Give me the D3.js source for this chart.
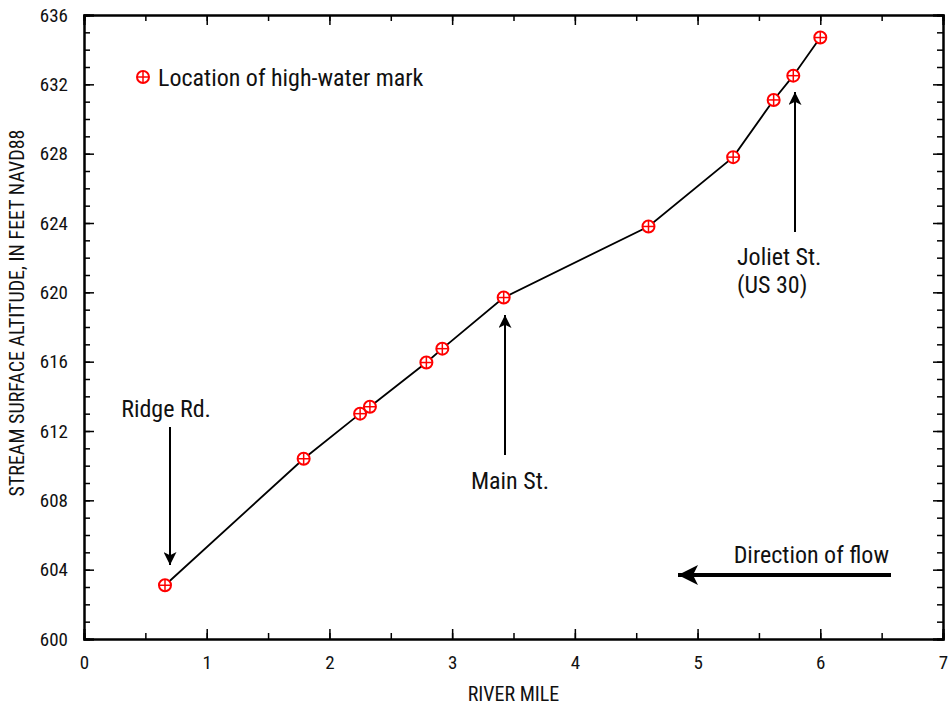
<!DOCTYPE html>
<html>
<head>
<meta charset="utf-8">
<script src="https://cdn.jsdelivr.net/npm/d3@7"></script>
<style>
body { margin: 0; background: #fff; }
text { font-family: "Liberation Sans Narrow", "Roboto Condensed", "DejaVu Sans Condensed", sans-serif; fill: #111; }
</style>
</head>
<body>
<svg id="chart" width="949" height="710"></svg>
<script>
// river mile vs stream surface altitude at each high-water mark
var riverMile = [0.66, 1.79, 2.25, 2.33, 2.79, 2.92, 3.42, 4.60, 5.29, 5.62, 5.78, 6.00];
var altitude = [603.1, 610.4, 613.0, 613.4, 615.95, 616.75, 619.7, 623.8, 627.8, 631.1, 632.5, 634.7];
var xTicks = [0, 1, 2, 3, 4, 5, 6, 7];
var yTicks = [600, 604, 608, 612, 616, 620, 624, 628, 632, 636];

var svg = d3.select("#chart");
var margin = {top: 15, right: 5, bottom: 71, left: 84};
var W = 949, H = 710;

var x = d3.scaleLinear().domain([0, 7]).range([margin.left, W - margin.right - 1]);
var y = d3.scaleLinear().domain([600, 636]).range([H - margin.bottom, margin.top]);

var defs = svg.append("defs");
defs.append("marker").attr("id", "head")
    .attr("viewBox", "0 0 10 10").attr("refX", 10).attr("refY", 5)
    .attr("markerWidth", 18).attr("markerHeight", 13).attr("markerUnits", "userSpaceOnUse")
    .attr("orient", "auto")
  .append("path").attr("d", "M0,0 L10,5 L0,10 L2.5,5 Z").attr("fill", "#000");
defs.append("marker").attr("id", "bighead")
    .attr("viewBox", "0 0 10 10").attr("refX", 10).attr("refY", 5)
    .attr("markerWidth", 34).attr("markerHeight", 20).attr("markerUnits", "userSpaceOnUse")
    .attr("orient", "auto")
  .append("path").attr("d", "M0,0 L10,5 L0,10 L2.5,5 Z").attr("fill", "#000");

// frame with inward ticks on all sides
function tickGroup(axis, tx, ty) {
  var g = svg.append("g").attr("transform", "translate(" + tx + "," + ty + ")").call(axis);
  g.attr("font-family", null).attr("font-size", null);
  g.select(".domain").attr("stroke", "#000").attr("stroke-width", 2);
  g.selectAll(".tick line").attr("stroke", "#000").attr("stroke-width", 1.5);
  return g;
}
var x0 = x(0), x7 = x(7), y0 = y(600), y1 = y(636);
var xMinor = d3.range(0, 7.01, 0.5);
var yMinor = d3.range(600, 636.01, 1);

// minor ticks
tickGroup(d3.axisBottom(x).tickValues(xMinor).tickSize(-6).tickFormat(""), 0, y0);
tickGroup(d3.axisTop(x).tickValues(xMinor).tickSize(-6).tickFormat(""), 0, y1);
tickGroup(d3.axisLeft(y).tickValues(yMinor).tickSize(-6).tickFormat(""), x0, 0);
tickGroup(d3.axisRight(y).tickValues(yMinor).tickSize(-6).tickFormat(""), x7, 0);

// major ticks with labels
var bx = tickGroup(d3.axisBottom(x).tickValues(xTicks).tickSize(-10).tickPadding(17).tickFormat(d3.format("d")), 0, y0);
tickGroup(d3.axisTop(x).tickValues(xTicks).tickSize(-10).tickFormat(""), 0, y1);
var ly = tickGroup(d3.axisLeft(y).tickValues(yTicks).tickSize(-10).tickPadding(16).tickFormat(d3.format("d")), x0, 0);
tickGroup(d3.axisRight(y).tickValues(yTicks).tickSize(-10).tickFormat(""), x7, 0);
bx.selectAll(".tick text").attr("font-size", 19);
ly.selectAll(".tick text").attr("font-size", 19);

svg.append("text").attr("x", (x0 + x7) / 2).attr("y", 701).attr("text-anchor", "middle")
  .attr("font-size", 20).text("RIVER MILE");
svg.append("text").attr("transform", "translate(24," + 313 + ") rotate(-90)").attr("text-anchor", "middle")
  .attr("font-size", 20).text("STREAM SURFACE ALTITUDE, IN FEET NAVD88");

// profile line
var pts = riverMile.map(function(m, i) { return [m, altitude[i]]; });
var line = d3.line().x(function(d) { return x(d[0]); }).y(function(d) { return y(d[1]); });
svg.append("path").datum(pts).attr("d", line).attr("fill", "none").attr("stroke", "#000").attr("stroke-width", 1.8);

function hwm(g, cx, cy) {
  g.append("circle").attr("cx", cx).attr("cy", cy).attr("r", 6).attr("fill", "#fff").attr("stroke", "#f00").attr("stroke-width", 2);
  g.append("line").attr("x1", cx - 5.5).attr("x2", cx + 5.5).attr("y1", cy).attr("y2", cy).attr("stroke", "#f00").attr("stroke-width", 1.5);
  g.append("line").attr("x1", cx).attr("x2", cx).attr("y1", cy - 5.5).attr("y2", cy + 5.5).attr("stroke", "#f00").attr("stroke-width", 1.5);
}
var mk = svg.append("g");
pts.forEach(function(d) { hwm(mk, x(d[0]), y(d[1])); });

// legend
hwm(svg.append("g"), 143, 77);
svg.append("text").attr("x", 158).attr("y", 86).attr("font-size", 24).text("Location of high-water mark");

// annotations
function arrow(x1, y1, x2, y2) {
  svg.append("line").attr("x1", x1).attr("y1", y1).attr("x2", x2).attr("y2", y2)
    .attr("stroke", "#000").attr("stroke-width", 2).attr("marker-end", "url(#head)");
}
svg.append("text").attr("x", 166).attr("y", 417).attr("text-anchor", "middle").attr("font-size", 24).text("Ridge Rd.");
arrow(170, 427, 170, 565);
svg.append("text").attr("x", 510).attr("y", 489).attr("text-anchor", "middle").attr("font-size", 24).text("Main St.");
arrow(505, 455, 505, 315);
svg.append("text").attr("x", 737).attr("y", 265).attr("font-size", 24).text("Joliet St.");
svg.append("text").attr("x", 737).attr("y", 293).attr("font-size", 24).text("(US 30)");
arrow(795, 232, 795, 92);
svg.append("text").attr("x", 889).attr("y", 563).attr("text-anchor", "end").attr("font-size", 24).text("Direction of flow");
svg.append("line").attr("x1", 891).attr("y1", 575).attr("x2", 678).attr("y2", 575)
  .attr("stroke", "#000").attr("stroke-width", 4).attr("marker-end", "url(#bighead)");
</script>
</body>
</html>
